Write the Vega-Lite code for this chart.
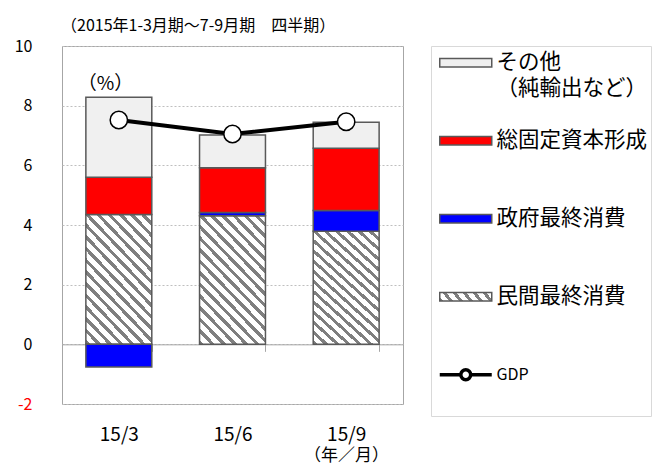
{
  "$schema": "https://vega.github.io/schema/vega-lite/v6.json",
  "background": "white",
  "padding": {"left": 13, "top": 17, "right": 0, "bottom": 0},
  "title": {"text": "（2015年1-3月期～7-9月期　四半期）", "anchor": "start", "frame": "group", "fontSize": 16, "fontWeight": "normal", "color": "#000000", "offset": 4, "dx": -1},
  "datasets": {
    "bars": [
      {"q": "15/3", "s": "民間最終消費", "k": 1, "v": 4.35},
      {"q": "15/3", "s": "政府最終消費", "k": 2, "v": -0.76},
      {"q": "15/3", "s": "総固定資本形成", "k": 3, "v": 1.25},
      {"q": "15/3", "s": "その他", "k": 4, "v": 2.68},
      {"q": "15/6", "s": "民間最終消費", "k": 1, "v": 4.31},
      {"q": "15/6", "s": "政府最終消費", "k": 2, "v": 0.11},
      {"q": "15/6", "s": "総固定資本形成", "k": 3, "v": 1.50},
      {"q": "15/6", "s": "その他", "k": 4, "v": 1.10},
      {"q": "15/9", "s": "民間最終消費", "k": 1, "v": 3.79},
      {"q": "15/9", "s": "政府最終消費", "k": 2, "v": 0.70},
      {"q": "15/9", "s": "総固定資本形成", "k": 3, "v": 2.08},
      {"q": "15/9", "s": "その他", "k": 4, "v": 0.87}
    ],
    "gdp": [
      {"q": "15/3", "gdp": 7.52},
      {"q": "15/6", "gdp": 7.05},
      {"q": "15/9", "gdp": 7.46}
    ]
  },
  "spacing": 28,
  "bounds": "flush",
  "hconcat": [
    {
      "width": 341,
      "height": 358,
      "view": {"stroke": "#a6a6a6", "strokeWidth": 1},
      "layer": [
        {
          "data": {"name": "bars"},
          "mark": {"type": "bar", "stroke": "#595959", "strokeWidth": 1.5},
          "encoding": {
            "x": {
              "field": "q", "type": "nominal", "sort": null,
              "scale": {"paddingInner": 0.42, "paddingOuter": 0.21},
              "axis": {
                "title": "（年／月）", "titleX": 284, "titleY": 111, "titleAlign": "center", "titleBaseline": "middle", "titleAngle": 0,
                "titleFontSize": 17, "titleFontWeight": "normal", "titleColor": "#000000",
                "labelAngle": 0, "labelFontSize": 19, "labelColor": "#000000", "labelPadding": 74,
                "offset": -59.67, "domainColor": "#a6a6a6", "tickColor": "#a6a6a6", "tickSize": 7, "tickBand": "extent", "grid": false
              }
            },
            "y": {
              "field": "v", "type": "quantitative", "stack": "zero",
              "scale": {"domain": [-2, 10], "nice": false},
              "axis": {
                "values": [-2, 0, 2, 4, 6, 8, 10], "labelExpr": "'' + datum.value",
                "title": "（%）", "titleAngle": 0, "titleX": 43, "titleY": 37, "titleAlign": "center", "titleBaseline": "middle",
                "titleFontSize": 19, "titleFontWeight": "normal", "titleColor": "#000000",
                "labelFontSize": 16, "labelColor": {"condition": {"test": "datum.value < 0", "value": "#ff0000"}, "value": "#000000"},
                "labelPadding": 30, "ticks": false, "domain": false,
                "grid": true, "gridColor": "#bfbfbf", "gridDash": [2, 2]
              }
            },
            "fill": {
              "field": "s", "type": "nominal",
              "scale": {
                "domain": ["その他", "総固定資本形成", "政府最終消費", "民間最終消費", "GDP"],
                "range": [
                  "#f0f0f0", "#ff0000", "#0000ff",
                  {"expr": "{gradient: 'linear', x1: 0, y1: 1, x2: 1.127, y2: 0.826, stops: [{offset: 0, color: '#7f7f7f'}, {offset: 0.0667, color: '#7f7f7f'}, {offset: 0.0667, color: '#ffffff'}, {offset: 0.1667, color: '#ffffff'}, {offset: 0.1667, color: '#7f7f7f'}, {offset: 0.2333, color: '#7f7f7f'}, {offset: 0.2333, color: '#ffffff'}, {offset: 0.3333, color: '#ffffff'}, {offset: 0.3333, color: '#7f7f7f'}, {offset: 0.4, color: '#7f7f7f'}, {offset: 0.4, color: '#ffffff'}, {offset: 0.5, color: '#ffffff'}, {offset: 0.5, color: '#7f7f7f'}, {offset: 0.5667, color: '#7f7f7f'}, {offset: 0.5667, color: '#ffffff'}, {offset: 0.6667, color: '#ffffff'}, {offset: 0.6667, color: '#7f7f7f'}, {offset: 0.7333, color: '#7f7f7f'}, {offset: 0.7333, color: '#ffffff'}, {offset: 0.8333, color: '#ffffff'}, {offset: 0.8333, color: '#7f7f7f'}, {offset: 0.9, color: '#7f7f7f'}, {offset: 0.9, color: '#ffffff'}, {offset: 1, color: '#ffffff'}]}"},
                  "#ffffff"
                ]
              },
              "condition": {
                "test": "datum.s === '民間最終消費'",
                "value": {
                  "gradient": "linear", "x1": 0, "y1": 1, "x2": 0.635, "y2": -0.194,
                  "stops": [
                    {"offset": 0, "color": "#7f7f7f"}, {"offset": 0.0235, "color": "#7f7f7f"}, {"offset": 0.0235, "color": "#ffffff"}, {"offset": 0.0588, "color": "#ffffff"},
                    {"offset": 0.0588, "color": "#7f7f7f"}, {"offset": 0.0824, "color": "#7f7f7f"}, {"offset": 0.0824, "color": "#ffffff"}, {"offset": 0.1176, "color": "#ffffff"},
                    {"offset": 0.1176, "color": "#7f7f7f"}, {"offset": 0.1412, "color": "#7f7f7f"}, {"offset": 0.1412, "color": "#ffffff"}, {"offset": 0.1765, "color": "#ffffff"},
                    {"offset": 0.1765, "color": "#7f7f7f"}, {"offset": 0.2, "color": "#7f7f7f"}, {"offset": 0.2, "color": "#ffffff"}, {"offset": 0.2353, "color": "#ffffff"},
                    {"offset": 0.2353, "color": "#7f7f7f"}, {"offset": 0.2588, "color": "#7f7f7f"}, {"offset": 0.2588, "color": "#ffffff"}, {"offset": 0.2941, "color": "#ffffff"},
                    {"offset": 0.2941, "color": "#7f7f7f"}, {"offset": 0.3176, "color": "#7f7f7f"}, {"offset": 0.3176, "color": "#ffffff"}, {"offset": 0.3529, "color": "#ffffff"},
                    {"offset": 0.3529, "color": "#7f7f7f"}, {"offset": 0.3765, "color": "#7f7f7f"}, {"offset": 0.3765, "color": "#ffffff"}, {"offset": 0.4118, "color": "#ffffff"},
                    {"offset": 0.4118, "color": "#7f7f7f"}, {"offset": 0.4353, "color": "#7f7f7f"}, {"offset": 0.4353, "color": "#ffffff"}, {"offset": 0.4706, "color": "#ffffff"},
                    {"offset": 0.4706, "color": "#7f7f7f"}, {"offset": 0.4941, "color": "#7f7f7f"}, {"offset": 0.4941, "color": "#ffffff"}, {"offset": 0.5294, "color": "#ffffff"},
                    {"offset": 0.5294, "color": "#7f7f7f"}, {"offset": 0.5529, "color": "#7f7f7f"}, {"offset": 0.5529, "color": "#ffffff"}, {"offset": 0.5882, "color": "#ffffff"},
                    {"offset": 0.5882, "color": "#7f7f7f"}, {"offset": 0.6118, "color": "#7f7f7f"}, {"offset": 0.6118, "color": "#ffffff"}, {"offset": 0.6471, "color": "#ffffff"},
                    {"offset": 0.6471, "color": "#7f7f7f"}, {"offset": 0.6706, "color": "#7f7f7f"}, {"offset": 0.6706, "color": "#ffffff"}, {"offset": 0.7059, "color": "#ffffff"},
                    {"offset": 0.7059, "color": "#7f7f7f"}, {"offset": 0.7294, "color": "#7f7f7f"}, {"offset": 0.7294, "color": "#ffffff"}, {"offset": 0.7647, "color": "#ffffff"},
                    {"offset": 0.7647, "color": "#7f7f7f"}, {"offset": 0.7882, "color": "#7f7f7f"}, {"offset": 0.7882, "color": "#ffffff"}, {"offset": 0.8235, "color": "#ffffff"},
                    {"offset": 0.8235, "color": "#7f7f7f"}, {"offset": 0.8471, "color": "#7f7f7f"}, {"offset": 0.8471, "color": "#ffffff"}, {"offset": 0.8824, "color": "#ffffff"},
                    {"offset": 0.8824, "color": "#7f7f7f"}, {"offset": 0.9059, "color": "#7f7f7f"}, {"offset": 0.9059, "color": "#ffffff"}, {"offset": 0.9412, "color": "#ffffff"},
                    {"offset": 0.9412, "color": "#7f7f7f"}, {"offset": 0.9647, "color": "#7f7f7f"}, {"offset": 0.9647, "color": "#ffffff"}, {"offset": 1, "color": "#ffffff"}
                  ]
                }
              },
              "legend": {
                "orient": "none", "legendX": 393, "legendY": 6, "title": null, "direction": "vertical", "padding": 0,
                "symbolType": "M-1,-0.16H1V0.16H-1Z", "symbolSize": 2704, "symbolStrokeColor": "#595959", "symbolStrokeWidth": 1.5,
                "labelFontSize": 21.5, "labelColor": "#000000", "labelOffset": 20, "labelBaseline": "middle", "rowPadding": 28,
                "gridAlign": "all",
                "labelExpr": "datum.label === 'その他' ? ['その他', '（純輸出など）'] : datum.label",
                "encoding": {
                  "symbols": {
                    "shape": {"value": {"expr": "datum.value === 'GDP' ? 'M-1,0H-0.19M0.19,0H1M0.19,0A0.19,0.19 0 1 1 -0.19,0A0.19,0.19 0 1 1 0.19,0Z' : 'M-1,-0.16H1V0.16H-1Z'"}},
                    "stroke": {"value": {"expr": "datum.value === 'GDP' ? '#000000' : '#595959'"}},
                    "strokeWidth": {"value": {"expr": "datum.value === 'GDP' ? 3.5 : 1.5"}}
                  },
                  "labels": {
                    "fontSize": {"value": {"expr": "datum.value === 'GDP' ? 16 : 21.5"}},
                    "lineHeight": {"value": 26}
                  }
                }
              }
            },
            "order": {"field": "k", "type": "quantitative"}
          }
        },
        {
          "data": {"name": "gdp"},
          "mark": {"type": "line", "color": "#000000", "strokeWidth": 4},
          "encoding": {
            "x": {"field": "q", "type": "nominal", "sort": null},
            "y": {"field": "gdp", "type": "quantitative"}
          }
        },
        {
          "data": {"name": "gdp"},
          "mark": {"type": "point", "filled": true, "fill": "#ffffff", "stroke": "#000000", "strokeWidth": 1.5, "size": 300, "opacity": 1},
          "encoding": {
            "x": {"field": "q", "type": "nominal", "sort": null},
            "y": {"field": "gdp", "type": "quantitative"}
          }
        }
      ]
    },
    {
      "width": 220,
      "height": 370,
      "view": {"stroke": "#d9d9d9", "strokeWidth": 1},
      "data": {"values": [{"a": 1}]},
      "mark": {"type": "point", "opacity": 0},
      "encoding": {}
    }
  ],
  "config": {
    "font": "Noto Sans CJK JP"
  }
}
